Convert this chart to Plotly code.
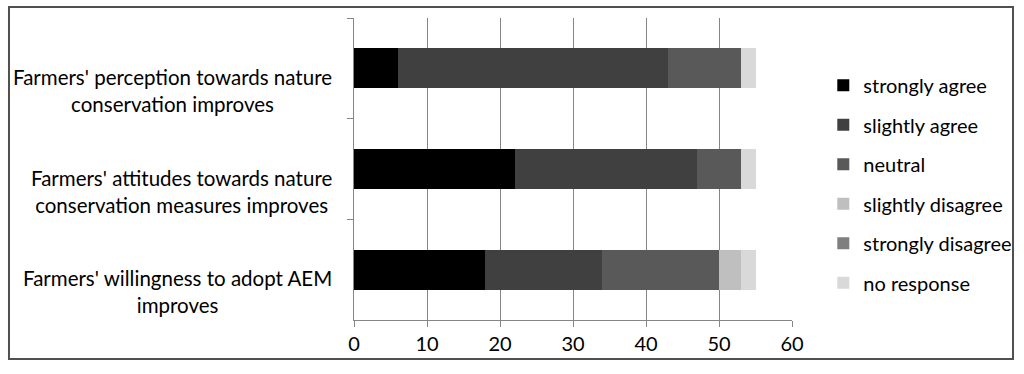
import plotly.graph_objects as go

# survey statements, top to bottom as in the picture
statements = [
    "Farmers' perception towards nature<br>conservation improves",
    "Farmers' attitudes towards nature<br>conservation measures improves",
    "Farmers' willingness to adopt AEM<br>improves",
]
cats = ["perception", "attitudes", "willingness"]

# number of respondents per answer
strongly_agree = [6, 22, 18]
slightly_agree = [37, 25, 16]
neutral = [10, 6, 16]
slightly_disagree = [0, 0, 3]
strongly_disagree = [0, 0, 0]
no_response = [2, 2, 2]

series = [
    ("strongly agree", strongly_agree, "#000000"),
    ("slightly agree", slightly_agree, "#404040"),
    ("neutral", neutral, "#595959"),
    ("slightly disagree", slightly_disagree, "#bfbfbf"),
    ("strongly disagree", strongly_disagree, "#7f7f7f"),
    ("no response", no_response, "#d9d9d9"),
]

fnt = dict(family="Lato, Open Sans, sans-serif", size=20, color="black")
lblfnt = dict(family="Lato, Open Sans, sans-serif", size=20.5, color="black")

fig = go.Figure()
for name, vals, col in series:
    fig.add_trace(go.Bar(
        y=cats, x=vals, name=name, orientation="h",
        marker=dict(color=col, line=dict(width=0)),
        legendgroup=name,
    ))

for c, txt in zip(cats, statements):
    fig.add_annotation(
        x=0, xref="paper", xshift=-20, xanchor="right",
        y=c, yref="y", yshift=-22, yanchor="middle",
        text=txt, showarrow=False, align="center", font=lblfnt,
    )

# outer frame of the figure
fig.add_shape(type="rect", xref="paper", yref="paper",
              x0=-0.7877, x1=1.5046, y0=-0.129, y1=1.0364,
              line=dict(color="#505050", width=2))

fig.update_layout(
    width=1024, height=374,
    barmode="stack", bargap=0.6,
    plot_bgcolor="white", paper_bgcolor="white",
    margin=dict(l=354, r=232, t=18, b=54),
    font=fnt,
    showlegend=True,
    legend=dict(xref="container", yref="container",
                x=0.804, xanchor="left", y=0.824, yanchor="top",
                maxheight=1.0,
                traceorder="grouped", tracegroupgap=10.5,
                bgcolor="rgba(0,0,0,0)", font=fnt, itemwidth=30),
    xaxis=dict(range=[0, 60], dtick=10, showgrid=True, gridcolor="#868686",
               gridwidth=1, showline=True, linecolor="#868686", ticks="outside",
               ticklen=6, tickcolor="#868686", zeroline=False, tickfont=fnt,
               fixedrange=True),
    yaxis=dict(autorange="reversed", showticklabels=False, showline=True,
               linecolor="#868686", ticks="outside", tickson="boundaries",
               ticklen=6, tickcolor="#868686", showgrid=False, fixedrange=True),
)

fig.write_html("out.html", config={"displayModeBar": False},
               post_script="document.body.style.margin='0';")
